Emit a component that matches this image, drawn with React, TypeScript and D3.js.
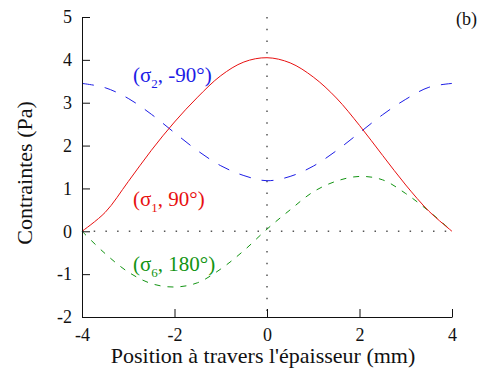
import { useEffect, useRef } from "react";
import { axisBottom, axisLeft, curveCatmullRom, line, scaleLinear, select } from "d3";

// positions across the thickness (mm)
const positions = [-4, -3.5, -3, -2.5, -2, -1.5, -1, -0.5, 0, 0.5, 1, 1.5, 2, 2.5, 3, 3.5, 4];
// (sigma1, 90°)
const sigma1 = [0, 0.44, 1.16, 1.89, 2.55, 3.13, 3.63, 3.95, 4.05, 3.93, 3.6, 3.11, 2.47, 1.77, 1.08, 0.47, 0];
// (sigma2, -90°)
const sigma2 = [3.45, 3.35, 3.1, 2.73, 2.3, 1.88, 1.53, 1.3, 1.18, 1.28, 1.52, 1.88, 2.3, 2.72, 3.08, 3.36, 3.45];
// (sigma6, 180°)
const sigma6 = [0, -0.52, -0.95, -1.22, -1.3, -1.2, -0.88, -0.45, 0.05, 0.5, 0.92, 1.17, 1.28, 1.2, 0.88, 0.47, 0];

const xTicks = [-4, -2, 0, 2, 4];
const yTicks = [-2, -1, 0, 1, 2, 3, 4, 5];

const FONT = "Liberation Serif";

const margin = { top: 17, right: 31, bottom: 53, left: 82 };
const W = 483;
const H = 370;
const width = W - margin.left - margin.right;
const height = H - margin.top - margin.bottom;

function AxisBottom({ scale }) {
  const ref = useRef(null);
  useEffect(() => {
    const g = select(ref.current);
    g.call(
      axisBottom(scale)
        .tickValues(xTicks)
        .tickFormat((d) => String(d))
        .tickSizeInner(-8)
        .tickSizeOuter(0)
        .tickPadding(11)
    );
    g.attr("font-family", FONT).attr("font-size", 18);
    g.select(".domain").attr("stroke", "#111");
    g.selectAll(".tick line").attr("stroke", "#111");
    g.selectAll(".tick text").attr("fill", "#111");
  }, [scale]);
  return <g ref={ref} transform={`translate(0, ${height})`} />;
}

function AxisLeft({ scale }) {
  const ref = useRef(null);
  useEffect(() => {
    const g = select(ref.current);
    g.call(
      axisLeft(scale)
        .tickValues(yTicks)
        .tickFormat((d) => String(d))
        .tickSizeInner(-8)
        .tickSizeOuter(0)
        .tickPadding(10)
    );
    g.attr("font-family", FONT).attr("font-size", 18);
    g.select(".domain").attr("stroke", "#111");
    g.selectAll(".tick line").attr("stroke", "#111");
    g.selectAll(".tick text").attr("fill", "#111");
  }, [scale]);
  return <g ref={ref} />;
}

function Label({ x, y, color, sub, rest }) {
  return (
    <text x={x} y={y} fill={color} style={{ fontFamily: FONT, fontSize: 21 }}>
      (σ
      <tspan style={{ fontSize: 13 }} dy={6}>{sub}</tspan>
      <tspan dy={-6}>{rest})</tspan>
    </text>
  );
}

export default function App() {
  const x = scaleLinear().domain([-4, 4]).range([0, width]);
  const y = scaleLinear().domain([-2, 5]).range([height, 0]);

  const path = (vals) =>
    line()
      .x((d) => x(d[0]))
      .y((d) => y(d[1]))
      .curve(curveCatmullRom)(positions.map((p, i) => [p, vals[i]]));

  return (
    <svg
      width={W}
      height={H}
      style={{ position: "absolute", left: 0, top: 0, background: "#fff", fontFamily: FONT }}
    >
      <g transform={`translate(${margin.left}, ${margin.top})`}>
        {/* dotted reference lines */}
        <line x1={0} x2={width} y1={y(0)} y2={y(0)} stroke="#555" strokeWidth={1.5} strokeDasharray="1.5 10.2" />
        <line x1={x(0)} x2={x(0)} y1={0} y2={height} stroke="#555" strokeWidth={1.5} strokeDasharray="1.5 10.2" />

        <path d={path(sigma2)} fill="none" stroke="#1c1ce6" strokeWidth={1} strokeDasharray="12 11" />
        <path d={path(sigma6)} fill="none" stroke="#129412" strokeWidth={1} strokeDasharray="6 7" />
        <path d={path(sigma1)} fill="none" stroke="#e81010" strokeWidth={1} />

        <AxisBottom scale={x} />
        <AxisLeft scale={y} />
      </g>

      <Label x={133} y={82} color="#1c1ce6" sub="2" rest=", -90°" />
      <Label x={133} y={206} color="#e81010" sub="1" rest=", 90°" />
      <Label x={133} y={271} color="#129412" sub="6" rest=", 180°" />

      <text x={477} y={25} textAnchor="end" style={{ fontFamily: FONT, fontSize: 18 }} fill="#111">
        (b)
      </text>

      <text x={263} y={363} textAnchor="middle" style={{ fontFamily: FONT, fontSize: 22 }} fill="#111">
        Position à travers l'épaisseur (mm)
      </text>
      <text
        transform={`translate(32, 173) rotate(-90)`}
        textAnchor="middle"
        style={{ fontFamily: FONT, fontSize: 22 }}
        fill="#111"
      >
        Contraintes (Pa)
      </text>
    </svg>
  );
}
